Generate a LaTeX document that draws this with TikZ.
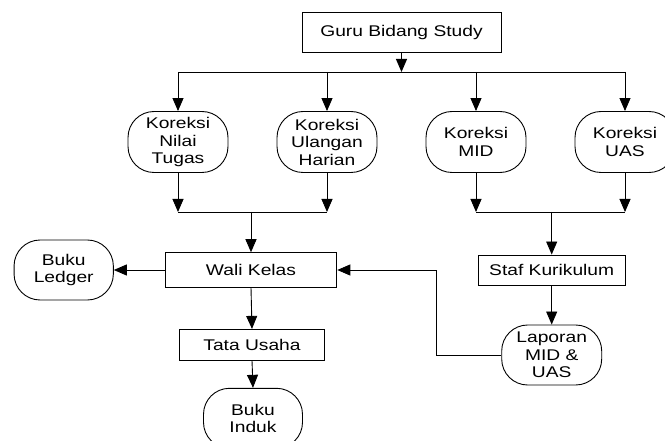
\documentclass[tikz,border=0pt]{standalone}
\usepackage{fontspec}
\setmainfont{Liberation Sans}[FakeStretch=1.24]
\usetikzlibrary{arrows.meta}
\begin{document}
\begin{tikzpicture}[x=1pt,y=-1pt,
  every node/.style={font=\fontsize{15.5}{17.5}\selectfont, align=center, inner sep=0pt, line width=0.9pt},
  boxn/.style={draw, rectangle},
  roundn/.style={draw, rectangle, rounded corners=26pt, minimum width=100pt, minimum height=61pt},
  arr/.style={draw, line width=0.9pt, -{Triangle[length=13pt,width=11pt]}},
  ln/.style={draw, line width=0.9pt}]
\clip (0,0) rectangle (665,441);
\fill[white] (0,0) rectangle (665,441);

\node[boxn, minimum width=199pt, minimum height=39.6pt] (guru) at (401.5,32.5) {Guru Bidang Study};

\node[roundn] (k1) at (178,142) {Koreksi\\Nilai\\Tugas};
\node[roundn] (k2) at (327,142) {Koreksi\\Ulangan\\Harian};
\node[roundn] (k3) at (476,142) {Koreksi\\MID};
\node[roundn] (k4) at (625,142) {Koreksi\\UAS};

\node[boxn, minimum width=171.7pt, minimum height=34.6pt] (wali) at (251,270) {Wali Kelas};
\node[roundn, minimum width=99.3pt, minimum height=60pt] (ledger) at (63.7,270) {Buku\\Ledger};
\node[boxn, minimum width=145.7pt, minimum height=30.7pt] (tata) at (252,344.7) {Tata Usaha};
\node[roundn, minimum width=99pt, minimum height=60pt] (induk) at (253,418.3) {Buku\\Induk};
\node[boxn, minimum width=146.7pt, minimum height=30pt] (staf) at (551.7,270) {Staf Kurikulum};
\node[roundn, minimum width=100pt, minimum height=60pt] (lap) at (551.7,355) {Laporan\\MID \&\\UAS};

% top bus
\coordinate (bt) at (401.5,72);
\coordinate (b1) at (178,72);
\coordinate (b2) at (327,72);
\coordinate (b3) at (476,72);
\coordinate (b4) at (625,72);
\draw[arr] (guru) -- (bt);
\draw[ln] (b1) -- (b4);
\draw[arr] (b1) -- (k1);
\draw[arr] (b2) -- (k2);
\draw[arr] (b3) -- (k3);
\draw[arr] (b4) -- (k4);

% bottom buses
\coordinate (c1) at (178,212);
\coordinate (c2) at (327,212);
\coordinate (c3) at (476,212);
\coordinate (c4) at (625,212);
\coordinate (cl) at (251,212);
\coordinate (cr) at (551.7,212);
\draw[arr] (k1) -- (c1);
\draw[arr] (k2) -- (c2);
\draw[arr] (k3) -- (c3);
\draw[arr] (k4) -- (c4);
\draw[ln] (c1) -- (c2);
\draw[ln] (c3) -- (c4);
\draw[arr] (cl) -- (wali);
\draw[arr] (cr) -- (staf);

% lower part
\draw[arr] (wali) -- (ledger);
\draw[arr] (wali.south) -- (tata.north);
\draw[arr] (tata.south) -- (induk.north);
\draw[arr] (staf) -- (lap);
\coordinate (fb) at (436,355);
\draw[arr] (lap.west) -- (fb) |- (wali.east);
\end{tikzpicture}
\end{document}
